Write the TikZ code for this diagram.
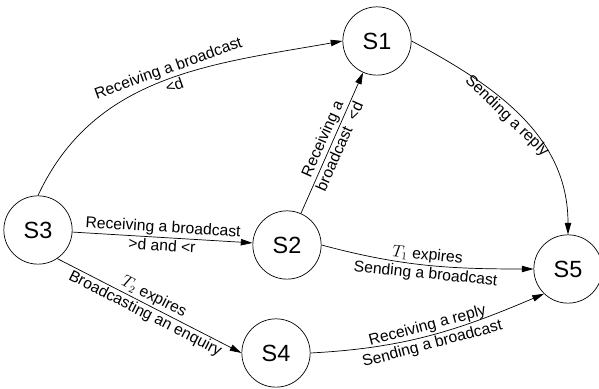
\documentclass[tikz,border=0pt]{standalone}
\usepackage{fontspec}
\setmainfont{Liberation Sans}
\usepackage{tikz}
\usetikzlibrary{arrows.meta,positioning}

\begin{document}
\begin{tikzpicture}[font=\fontsize{13.4}{15}\selectfont, state/.style={draw, circle, line width=0.6pt, minimum size=2.05cm, inner sep=0pt, font=\fontsize{20}{24}\selectfont}, arr/.style={-{Triangle[length=10pt,width=5.5pt]}, line width=0.6pt}, lbl/.style={sloped, inner sep=1.5pt}]
\useasboundingbox (0,0) rectangle (17.97,11.67);
\node[state] (s3) at (1.14,4.77) {S3};
\node[state, on grid, above right=5.67cm and 10.17cm of s3] (s1) {S1};
\node[state, on grid, below right=0.45cm and 7.47cm of s3] (s2) {S2};
\node[state, on grid, below right=3.69cm and 7.14cm of s3] (s4) {S4};
\node[state, on grid, below right=0.72cm and 8.43cm of s2] (s5) {S5};
\draw[arr] (s3.north) to[out=65, in=190] node[lbl, above, pos=0.53] {Receiving a broadcast} node[lbl, below, pos=0.53] {<d} (s1.west);
\draw[arr] (s1.east) to[out=-28, in=90] node[lbl, below, pos=0.45] {Sending a reply} (s5.north);
\draw[arr] (s2) -- node[lbl, above] {Receiving a} node[lbl, below] {broadcast\ \ <d} (s1);
\draw[arr] (s3) -- node[lbl, above] {Receiving a broadcast} node[lbl, below] {>d and <r} (s2);
\draw[arr] (s3.-56) -- node[lbl, above] {$T_2$ expires} node[lbl, below] {Broadcasting an enquiry} (s4.west);
\draw[arr] (s2.east) to[out=-15, in=180] node[lbl, above] {$T_1$ expires} node[lbl, below] {Sending a broadcast} (s5.west);
\draw[arr] (s4.east) to[out=3, in=203] node[lbl, above] {Receiving a reply} node[lbl, below] {Sending a broadcast} (s5.-134);
\end{tikzpicture}
\end{document}
